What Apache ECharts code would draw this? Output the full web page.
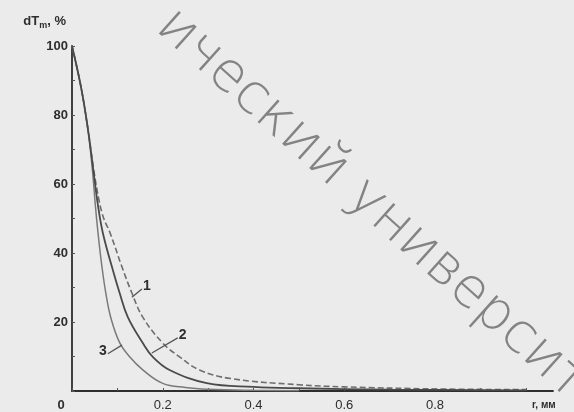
<!DOCTYPE html>
<html><head><meta charset="utf-8">
<script src="https://cdn.jsdelivr.net/npm/echarts@6/dist/echarts.min.js"></script>
<style>html,body{margin:0;padding:0;background:#ebebeb;}#c{width:574px;height:412px;}</style>
</head><body><div id="c"></div>
<script>
// curve 1 (outer, dashed)
const r1 = [0, 0.02, 0.035, 0.048, 0.06, 0.07, 0.084, 0.11, 0.132, 0.156, 0.2, 0.237, 0.281, 0.35, 0.5, 0.6, 0.8, 1.0];
const v1 = [100, 88, 76, 64, 55, 50, 45.8, 36, 28.4, 21.4, 13.9, 9.9, 6.1, 3.6, 1.8, 1.2, 0.6, 0.4];
// curve 2 (middle, solid)
const r2 = [0, 0.02, 0.035, 0.047, 0.057, 0.068, 0.088, 0.105, 0.123, 0.156, 0.178, 0.215, 0.297, 0.4, 0.5, 0.7, 1.0];
const v2 = [100, 88, 76, 64, 54, 45.8, 36, 28.4, 21.4, 13.9, 9.9, 6.1, 2.3, 1.2, 0.8, 0.4, 0.2];
// curve 3 (inner)
const r3 = [0, 0.02, 0.035, 0.045, 0.052, 0.058, 0.066, 0.075, 0.086, 0.105, 0.127, 0.156, 0.2, 0.25, 0.3, 0.4, 0.5];
const v3 = [100, 88, 76, 64, 53, 45, 36, 28, 21, 14, 9.9, 6.1, 2.2, 1.0, 0.5, 0.2, 0.1];
const curveNames = ['1', '2', '3'];
// leader lines: [curve point, label point]
const lead1 = [[0.132, 27.2], [0.154, 29.6]];
const lead2 = [[0.176, 11], [0.233, 15.4]];
const lead3 = [[0.11, 13.3], [0.079, 10.8]];
const xTicks = [0, 0.2, 0.4, 0.6, 0.8];
const yTicks = [20, 40, 60, 80, 100];

const zip = (a, b) => a.map((x, i) => [x, b[i]]);
const ink = '#2e2e2e';
function leader(seg, txt, align) {
  return {
    markLine: {silent: true, symbol: 'none', label: {show: false},
      lineStyle: {color: '#555', width: 1.3, type: 'solid'},
      data: [[{coord: seg[0]}, {coord: seg[1]}]]},
    markPoint: {silent: true, symbol: 'circle', symbolSize: 0,
      data: [{coord: seg[1], label: {show: true, formatter: txt, color: ink,
        fontFamily: 'Liberation Sans', fontWeight: 'bold', fontSize: 14,
        position: align === 'left' ? 'left' : 'right', distance: 1, offset: [0, -3]}}]}
  };
}
const chart = echarts.init(document.getElementById('c'), null, {renderer: 'canvas'});
chart.setOption({
  backgroundColor: '#ebebeb',
  animation: false,
  grid: {left: 72, right: 21, top: 46, bottom: 21},
  graphic: [{
    type: 'text', x: 182, y: -2, rotation: -0.73, silent: true, z: 0,
    style: {text: 'ический университет', fontSize: 55, fontFamily: 'DejaVu Sans', fontWeight: 200,
      fill: 'rgba(105,105,105,0.8)', textVerticalAlign: 'top'}
  }],
  xAxis: {
    type: 'value', min: 0, max: 1.06, interval: 0.1,
    name: 'r, мм', nameLocation: 'end', nameGap: -21,
    nameTextStyle: {color: ink, fontSize: 10, fontFamily: 'Liberation Sans', fontWeight: 'bold',
      align: 'left', verticalAlign: 'top', padding: [9, 0, 0, 0]},
    axisLine: {lineStyle: {color: ink, width: 1.8}},
    axisTick: {inside: true, length: 3, lineStyle: {color: '#555'}},
    splitLine: {show: false},
    axisLabel: {color: ink, fontSize: 13, fontFamily: 'Liberation Sans', margin: 8, showMaxLabel: false,
      rich: {z: {color: ink, fontSize: 13, fontFamily: 'Liberation Sans', fontWeight: 'bold', padding: [0, 22, 0, 0]}},
      formatter: v => xTicks.some(t => Math.abs(t - v) < 1e-6) ? (v === 0 ? '{z|0}' : v.toFixed(1)) : ''}
  },
  yAxis: {
    type: 'value', min: 0, max: 100, interval: 10,
    name: 'dT{s|m}, %', nameLocation: 'end', nameGap: 16,
    nameTextStyle: {color: ink, fontSize: 13, fontFamily: 'Liberation Sans', fontWeight: 'bold',
      align: 'right', padding: [0, 6, 0, 0],
      rich: {s: {fontSize: 9, fontFamily: 'Liberation Sans', fontWeight: 'bold', color: ink, padding: [8, 0, 0, 0]}}},
    axisLine: {show: true, lineStyle: {color: ink, width: 1.8}},
    axisTick: {inside: true, length: 3, lineStyle: {color: '#555'}},
    splitLine: {show: false},
    axisLabel: {color: ink, fontSize: 13, fontWeight: 'bold', fontFamily: 'Liberation Sans', margin: 4,
      formatter: v => yTicks.includes(v) ? String(v) : ''}
  },
  series: [
    Object.assign({type: 'line', name: curveNames[0], data: zip(r1, v1), smooth: 0.4, symbol: 'none',
      lineStyle: {color: '#6e6e6e', width: 1.6, type: [6, 3]}, z: 3}, leader(lead1, curveNames[0], 'right')),
    Object.assign({type: 'line', name: curveNames[1], data: zip(r2, v2), smooth: 0.4, symbol: 'none',
      lineStyle: {color: '#4a4a4a', width: 1.8}, z: 4}, leader(lead2, curveNames[1], 'right')),
    Object.assign({type: 'line', name: curveNames[2], data: zip(r3, v3), smooth: 0.4, symbol: 'none',
      lineStyle: {color: '#7a7a7a', width: 1.5}, z: 3}, leader(lead3, curveNames[2], 'left'))
  ]
});
</script></body></html>
